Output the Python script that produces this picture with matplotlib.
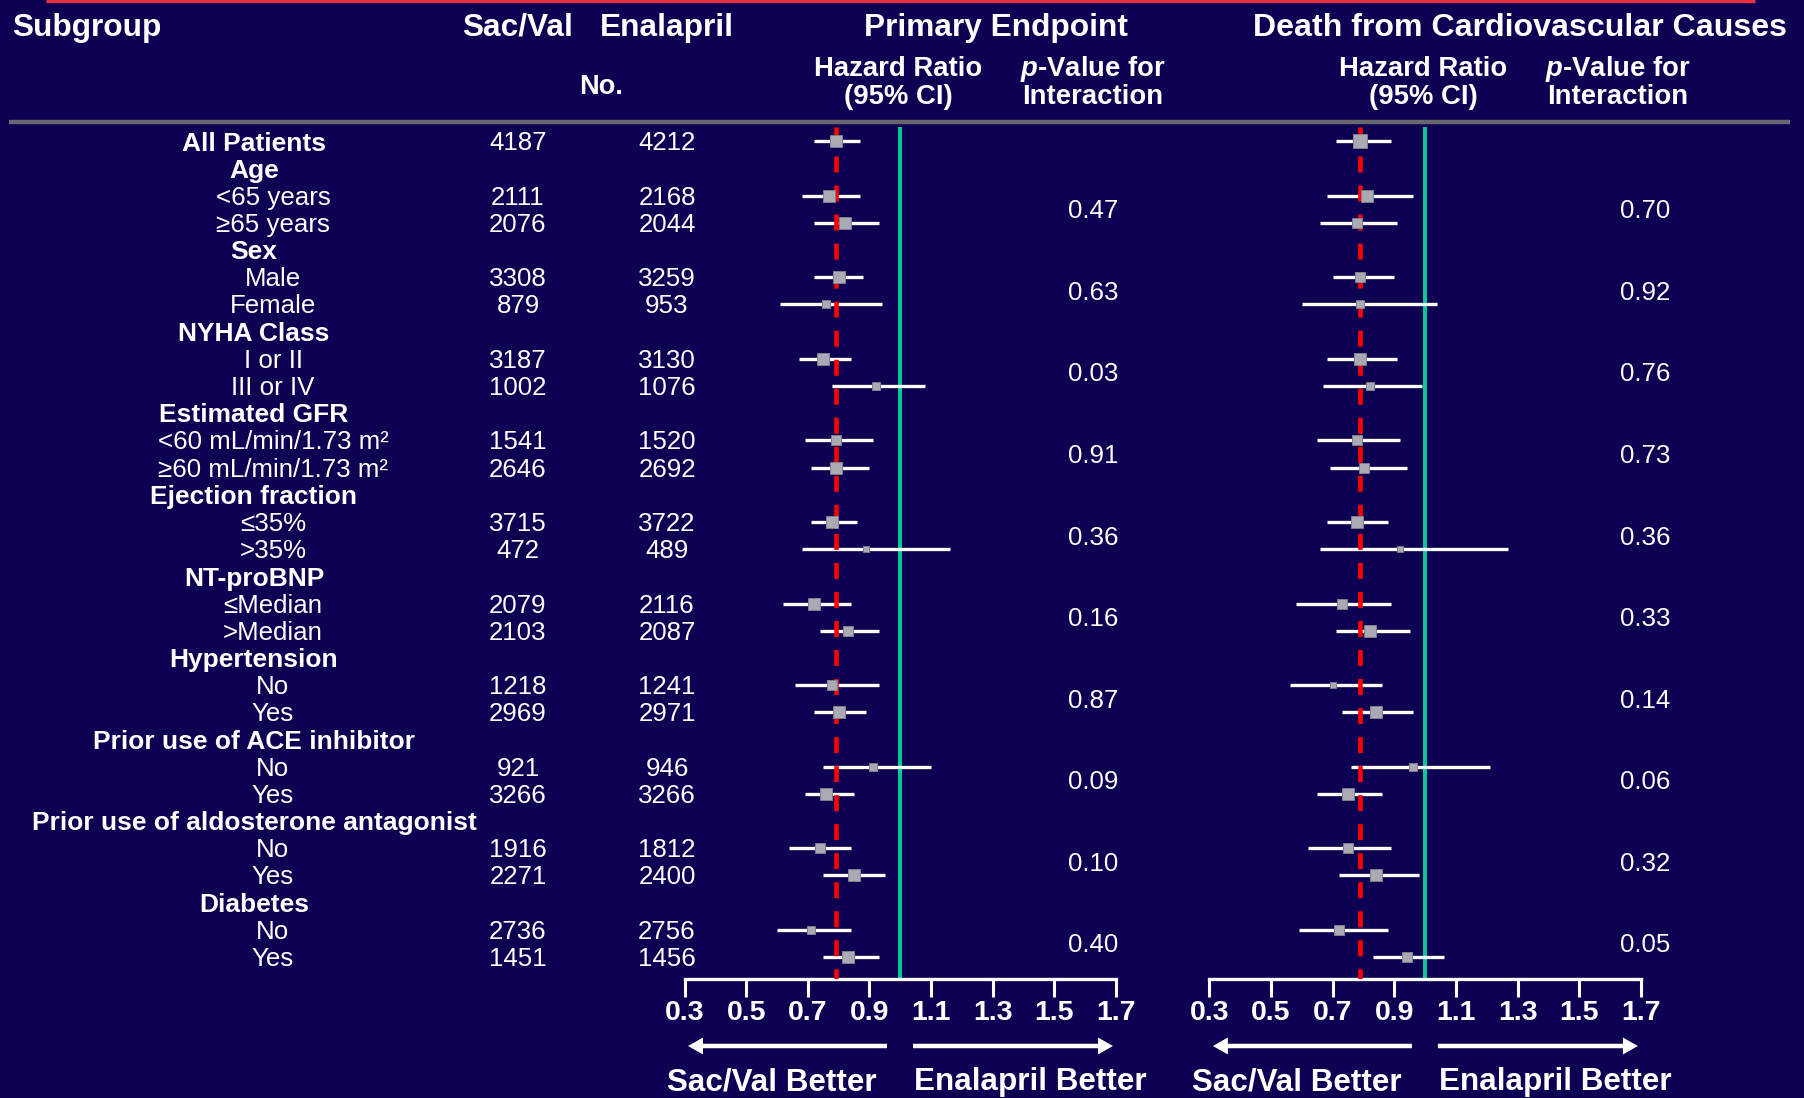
import matplotlib
matplotlib.use("Agg")
import matplotlib.pyplot as plt
from matplotlib.patches import FancyArrow
import numpy as np

plt.rcParams['font.family'] = ['Liberation Sans', 'DejaVu Sans']
plt.rcParams['mathtext.fontset'] = 'custom'
plt.rcParams['mathtext.it'] = 'Liberation Sans:bold:italic'
plt.rcParams['mathtext.rm'] = 'Liberation Sans:bold'
plt.rcParams['lines.scale_dashes'] = False

# ------------------------------------------------------------------ data
group_headers = ["Age", "Sex", "NYHA Class", "Estimated GFR", "Ejection fraction",
                 "NT-proBNP", "Hypertension", "Prior use of ACE inhibitor",
                 "Prior use of aldosterone antagonist", "Diabetes"]
subgroup_levels = [["<65 years", "≥65 years"], ["Male", "Female"], ["I or II", "III or IV"],
                   ["<60 mL/min/1.73 m²", "≥60 mL/min/1.73 m²"], ["≤35%", ">35%"],
                   ["≤Median", ">Median"], ["No", "Yes"], ["No", "Yes"], ["No", "Yes"],
                   ["No", "Yes"]]

# first entry = All Patients, then the two levels of every group in order
n_sacval = [4187, 2111, 2076, 3308, 879, 3187, 1002, 1541, 2646, 3715, 472,
            2079, 2103, 1218, 2969, 921, 3266, 1916, 2271, 2736, 1451]
n_enalapril = [4212, 2168, 2044, 3259, 953, 3130, 1076, 1520, 2692, 3722, 489,
               2116, 2087, 1241, 2971, 946, 3266, 1812, 2400, 2756, 1456]

hr_primary = [0.79, 0.77, 0.82, 0.80, 0.76, 0.75, 0.92, 0.79, 0.79, 0.78, 0.89,
              0.72, 0.83, 0.78, 0.80, 0.91, 0.76, 0.74, 0.85, 0.71, 0.83]
lo_primary = [0.72, 0.68, 0.72, 0.72, 0.61, 0.67, 0.78, 0.69, 0.71, 0.71, 0.68,
              0.62, 0.74, 0.66, 0.72, 0.75, 0.69, 0.64, 0.75, 0.60, 0.75]
hi_primary = [0.87, 0.87, 0.93, 0.88, 0.94, 0.84, 1.08, 0.91, 0.90, 0.86, 1.16,
              0.84, 0.93, 0.93, 0.89, 1.10, 0.85, 0.84, 0.95, 0.84, 0.93]

hr_cv = [0.79, 0.81, 0.78, 0.79, 0.79, 0.79, 0.82, 0.78, 0.80, 0.78, 0.92,
         0.73, 0.82, 0.70, 0.84, 0.96, 0.75, 0.75, 0.84, 0.72, 0.94]
lo_cv = [0.71, 0.68, 0.66, 0.70, 0.60, 0.68, 0.67, 0.65, 0.69, 0.68, 0.66,
         0.58, 0.71, 0.56, 0.73, 0.76, 0.65, 0.62, 0.72, 0.59, 0.83]
hi_cv = [0.89, 0.96, 0.91, 0.90, 1.04, 0.91, 0.99, 0.92, 0.94, 0.88, 1.27,
         0.89, 0.95, 0.86, 0.96, 1.21, 0.86, 0.89, 0.98, 0.88, 1.06]

p_primary = ["0.47", "0.63", "0.03", "0.91", "0.36", "0.16", "0.87", "0.09", "0.10", "0.40"]
p_cv = ["0.70", "0.92", "0.76", "0.73", "0.36", "0.33", "0.14", "0.06", "0.32", "0.05"]

tick_values = [0.3, 0.5, 0.7, 0.9, 1.1, 1.3, 1.5, 1.7]

# ------------------------------------------------------------------ styling
BG = "#0d0052"
WHITE = "#ffffff"
GREEN = "#00c896"
RED = "#ff0000"
BOX = "#aaaab4"
BOX_EDGE = "#80808c"

# square side (px) per row, weighted markers
box_px_primary = [12.5, 11.5, 11.5, 11.5, 8, 11.5, 7.5, 10.5, 12, 12, 6.5,
                  11.5, 10.5, 10, 12, 8, 12, 10, 11.5, 8, 11.5]
box_px_cv = [13.5, 12, 10, 10, 8, 12, 8, 10, 10.5, 12, 6.5,
             10, 12.5, 6.5, 12, 7.5, 12, 10, 12, 10, 10.5]

W, H = 1804, 1098
ROW0, PITCH = 141.3, 27.19       # pixel centre of first row, row spacing
YT, YB = 126.5, 978.5            # top / bottom (axis line) of the plot panels
PANEL_W = 431.5
LEFT_X0, RIGHT_X0 = 684.5, 1209.4


def ypx(r):
    return ROW0 + PITCH * r


fig = plt.figure(figsize=(W / 100, H / 100), dpi=100, facecolor=BG)
bg = fig.add_axes([0, 0, 1, 1])
bg.set_xlim(0, W)
bg.set_ylim(H, 0)
bg.axis("off")


def txt(x, y, s, size, bold=False, ha="center"):
    """Place text so that its capital height is centred on y (pixels)."""
    em = size * 100 / 72
    bg.text(x, y + 0.35 * em, s, fontsize=size, color=WHITE, ha=ha, va="baseline",
            fontweight="bold" if bold else "normal")


# decorative rules
bg.plot([46, 1755], [1, 1], color="#e8323f", lw=2.4, solid_capstyle="butt")
bg.plot([9, 1790], [122.2, 122.2], color="#67676f", lw=3.2, solid_capstyle="butt")

# column headers
txt(12, 24.5, "Subgroup", 22.8, True, ha="left")
txt(518, 24.5, "Sac/Val", 22.8, True)
txt(667, 24.5, "Enalapril", 22.8, True)
txt(LEFT_X0 + 311.5, 24.5, "Primary Endpoint", 22.8, True)
txt(RIGHT_X0 + 310.6, 24.5, "Death from Cardiovascular Causes", 23.1, True)
txt(601, 85, "No.", 19.5, True)
for x0 in (LEFT_X0, RIGHT_X0):
    txt(x0 + 213.5, 66.7, "Hazard Ratio", 19.8, True)
    txt(x0 + 213.5, 94.2, "(95% CI)", 19.8, True)
    txt(x0 + 408.5, 66.7, r"$\mathit{p}$-Value for", 19.8, True)
    txt(x0 + 408.5, 94.2, "Interaction", 19.8, True)

# table rows
rows = [("All Patients", "head", 0)]
k = 1
for g, levels in zip(group_headers, subgroup_levels):
    rows.append((g, "head", None))
    for lv in levels:
        rows.append((lv, "level", k))
        k += 1

data_row_pos = {}
for r, (label, kind, idx) in enumerate(rows):
    y = ypx(r)
    if kind == "head":
        txt(254, y, label, 19, True)
    else:
        txt(273, y, label, 18.6)
    if idx is not None:
        data_row_pos[idx] = r
        txt(518, y, str(n_sacval[idx]), 18.6)
        txt(667, y, str(n_enalapril[idx]), 18.6)

n_data = len(n_sacval)
row_index = [data_row_pos[i] for i in range(n_data)]

# interaction p-values, centred between the two levels of each group
for gi in range(len(group_headers)):
    r1, r2 = row_index[1 + 2 * gi], row_index[2 + 2 * gi]
    ym = (ypx(r1) + ypx(r2)) / 2
    txt(1093, ym, p_primary[gi], 18.6)
    txt(1645, ym, p_cv[gi], 18.6)


def forest(x0, hr, lo, hi, box_px):
    ax = fig.add_axes([x0 / W, 1 - YB / H, PANEL_W / W, (YB - YT) / H])
    ax.set_xlim(0.3, 1.7)
    ax.set_ylim((YB - ROW0) / PITCH, (YT - ROW0) / PITCH)
    ax.patch.set_alpha(0)
    for s in ("top", "left", "right"):
        ax.spines[s].set_visible(False)
    ax.spines["bottom"].set_color(WHITE)
    ax.spines["bottom"].set_linewidth(2.4)
    ax.set_yticks([])
    ax.set_xticks(tick_values)
    ax.set_xticklabels([f"{v:.1f}" for v in tick_values], fontsize=20.5,
                       fontweight="bold", color=WHITE)
    ax.tick_params(axis="x", colors=WHITE, direction="out", length=13.3,
                   width=2.2, pad=2.5)

    ax.axvline(1.0, color=GREEN, lw=2.9, zorder=1)
    ax.axvline(hr[0], ymin=1, ymax=0, color=RED, lw=3.3, dashes=(11.5, 9.4),
               zorder=3)
    ax.hlines(row_index, lo, hi, color=WHITE, lw=2.4, zorder=2)
    for y, h, s in zip(row_index, hr, box_px):
        ax.plot([h], [y], marker="s", ms=s * 0.72, mfc=BOX, mec=BOX_EDGE,
                mew=0.7, zorder=4, ls="none")

    # direction arrows and captions
    ay = 1046
    bg.add_patch(FancyArrow(x0 + 202.5, ay, -199, 0, width=4.5, head_width=17,
                            head_length=15, length_includes_head=True,
                            color=WHITE, lw=0))
    bg.add_patch(FancyArrow(x0 + 228.5, ay, 200, 0, width=4.5, head_width=17,
                            head_length=15, length_includes_head=True,
                            color=WHITE, lw=0))
    txt(x0 + 87, 1079.5, "Sac/Val Better", 22.6, True)
    txt(x0 + 345.5, 1079.5, "Enalapril Better", 22.6, True)
    return ax


forest(LEFT_X0, hr_primary, lo_primary, hi_primary, box_px_primary)
forest(RIGHT_X0, hr_cv, lo_cv, hi_cv, box_px_cv)

fig.savefig("out.png", dpi=100, facecolor=BG)
